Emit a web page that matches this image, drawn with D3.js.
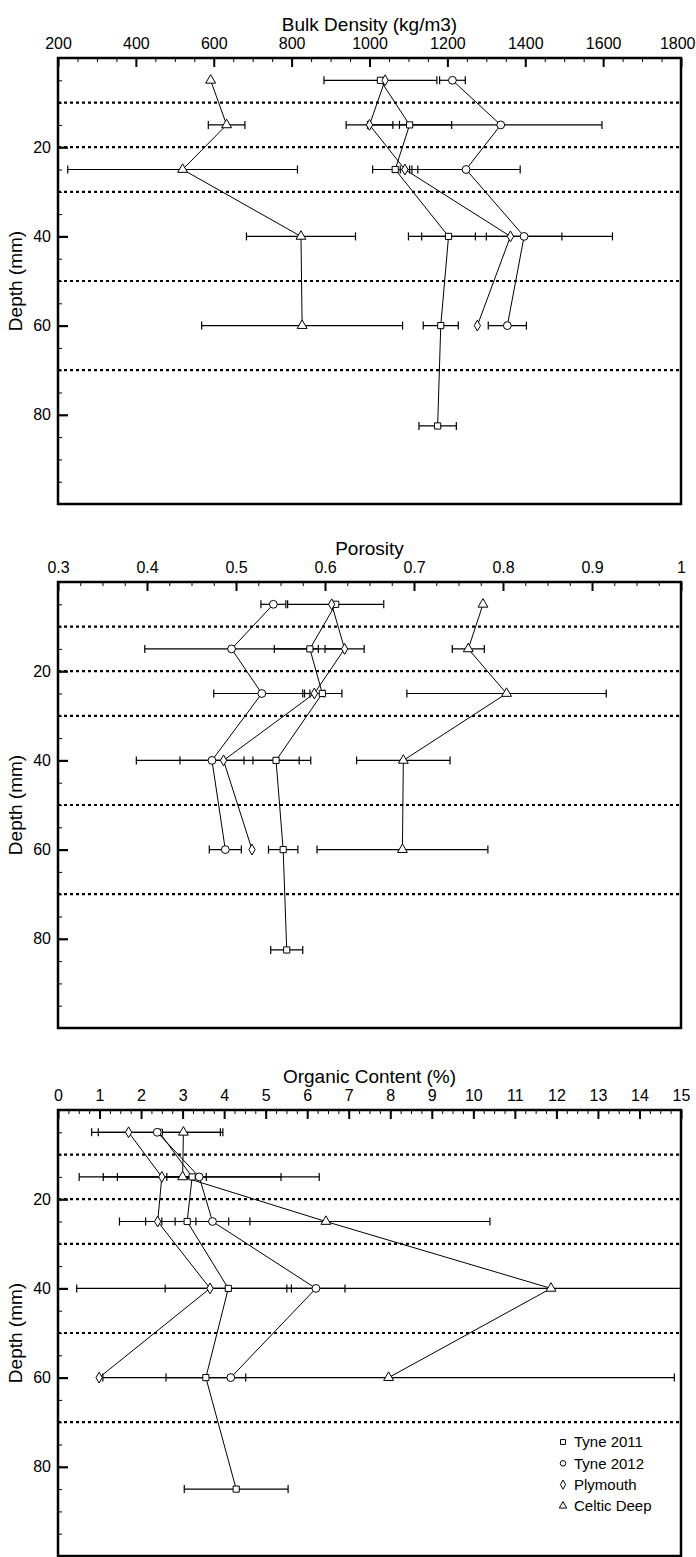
<!DOCTYPE html>
<html>
<head>
<meta charset="utf-8">
<script src="https://cdn.jsdelivr.net/npm/d3@7"></script>
<style>
  body { margin: 0; background: #fff; }
  text { font-family: "Liberation Sans", Arial, sans-serif; fill: #000; }
</style>
</head>
<body>
<svg id="chart" width="696" height="1557"></svg>
<script>
// series order: Tyne 2011, Tyne 2012, Plymouth, Celtic Deep
const seriesNames = ['Tyne 2011', 'Tyne 2012', 'Plymouth', 'Celtic Deep'];
const depths = [5, 15, 25, 40, 60];
// Tyne 2011 has one extra deeper sample in each panel
const deepestTyne2011 = [82.5, 82.5, 85];
const dividerDepths = [10, 20, 30, 50, 70];
const depthTicks = [20, 40, 60, 80];

const bulkMean = [
  [1028, 1103, 1066, 1203, 1183, 1175],
  [1213, 1337, 1248, 1397, 1354],
  [1040, 1000, 1091, 1362, 1277],
  [592, 633, 520, 824, 827]
];
const bulkSd = [
  [145, 108, 58, 69, 45, 48],
  [33, 260, 139, 97, 49],
  [null, 60, 12, 262, null],
  [null, 47, 295, 140, 258]
];

const porosityMean = [
  [0.612, 0.583, 0.597, 0.545, 0.553, 0.557],
  [0.542, 0.495, 0.529, 0.473, 0.488],
  [0.6075, 0.622, 0.588, 0.486, 0.518],
  [0.7775, 0.761, 0.804, 0.688, 0.687]
];
const porositySd = [
  [0.054, 0.040, 0.022, 0.026, 0.0165, 0.018],
  [0.014, 0.0975, 0.054, 0.036, 0.018],
  [null, 0.022, 0.011, 0.098, null],
  [null, 0.018, 0.112, 0.0525, 0.096]
];

const organicMean = [
  [2.44, 3.23, 3.11, 4.10, 3.56, 4.29],
  [2.39, 3.40, 3.72, 6.21, 4.16],
  [1.70, 2.50, 2.40, 3.66, 0.99],
  [3.02, 3.00, 6.45, 11.87, 7.96]
];
const organicSd = [
  [1.47, 2.14, 1.0, 1.52, 0.96, 1.25],
  [1.58, 2.89, 0.9, 0.70, null],
  [null, 1.07, 0.92, null, null],
  [null, 0.38, 3.95, 11.42, 6.88]
];

const bulkTicks = [200, 400, 600, 800, 1000, 1200, 1400, 1600, 1800];
const porosityTicks = [0.3, 0.4, 0.5, 0.6, 0.7, 0.8, 0.9, 1];
const organicTicks = [0, 1, 2, 3, 4, 5, 6, 7, 8, 9, 10, 11, 12, 13, 14, 15];

const panels = [
  { title: 'Bulk Density (kg/m3)', ticks: bulkTicks, minorStep: 50, mean: bulkMean, sd: bulkSd, top: 58 },
  { title: 'Porosity', ticks: porosityTicks, minorStep: 0.025, mean: porosityMean, sd: porositySd, top: 582 },
  { title: 'Organic Content (%)', ticks: organicTicks, minorStep: 0.25, mean: organicMean, sd: organicSd, top: 1110 }
];

const left = 58, width = 623, height = 446;
const symbols = [d3.symbolSquare, d3.symbolCircle, d3.symbolDiamond, d3.symbolTriangle];
const symbolSizes = [38, 48, 34, 42];
const fontFam = '"Liberation Sans", Arial, sans-serif';

const svg = d3.select('#chart');

panels.forEach((p, pi) => {
  const g = svg.append('g').attr('transform', `translate(${left},${p.top})`);
  const lo = p.ticks[0], hi = p.ticks[p.ticks.length - 1];
  const x = d3.scaleLinear().domain([lo, hi]).range([0, width]);
  const y = d3.scaleLinear().domain([0, 100]).range([0, height]);

  g.append('clipPath').attr('id', 'clip' + pi)
    .append('rect').attr('width', width).attr('height', height);

  // dotted horizontal dividers
  g.selectAll('.divider')
    .data(dividerDepths)
    .enter()
    .append('line')
    .attr('x1', 0).attr('x2', width)
    .attr('y1', d => y(d)).attr('y2', d => y(d))
    .attr('stroke', '#000')
    .attr('stroke-width', 2.2)
    .attr('stroke-dasharray', '3,3');

  // top axis, ticks pointing inward
  const minor = d3.range(lo, hi + p.minorStep / 2, p.minorStep);
  g.append('g')
    .call(d3.axisTop(x).tickValues(minor).tickSize(-4).tickFormat(''))
    .call(a => a.select('.domain').remove())
    .selectAll('line').attr('stroke-width', 1);
  g.append('g')
    .call(d3.axisTop(x).tickValues(p.ticks).tickSize(-9).tickPadding(9).tickFormat(d3.format('~g')))
    .call(a => a.select('.domain').remove())
    .call(a => a.selectAll('line').attr('stroke-width', 2))
    .call(a => a.selectAll('text').attr('font-size', 16).style('font-family', fontFam))
    .call(a => a.selectAll('text').each(function (d) {
      // keep the last label inside the page
      const w = this.getComputedTextLength();
      const over = left + x(d) + w / 2 - 695;
      if (over > 0) d3.select(this).attr('dx', -over);
    }));

  // left axis
  g.append('g')
    .call(d3.axisLeft(y).tickValues(d3.range(5, 100, 5)).tickSize(-4).tickFormat(''))
    .call(a => a.select('.domain').remove())
    .selectAll('line').attr('stroke-width', 1);
  g.append('g')
    .call(d3.axisLeft(y).tickValues(depthTicks).tickSize(-10).tickPadding(7))
    .call(a => a.select('.domain').remove())
    .call(a => a.selectAll('line').attr('stroke-width', 2.2))
    .call(a => a.selectAll('text').attr('font-size', 16).style('font-family', fontFam));

  g.append('rect')
    .attr('width', width).attr('height', height)
    .attr('fill', 'none').attr('stroke', '#000').attr('stroke-width', 2.5);

  g.append('text')
    .attr('x', width / 2).attr('y', -27)
    .attr('text-anchor', 'middle')
    .attr('font-size', 19)
    .text(p.title);

  g.append('text')
    .attr('transform', `translate(-36,${height / 2}) rotate(-90)`)
    .attr('text-anchor', 'middle')
    .attr('font-size', 19)
    .text('Depth (mm)');

  const plot = g.append('g').attr('clip-path', `url(#clip${pi})`);
  const line = d3.line().x(d => x(d.v)).y(d => y(d.d));

  const series = p.mean.map((vals, si) => {
    const ds = si === 0 ? depths.concat([deepestTyne2011[pi]]) : depths;
    return vals.map((v, k) => ({ v: v, d: ds[k], e: p.sd[si][k], s: si }));
  });

  series.forEach(pts => {
    plot.append('path')
      .attr('d', line(pts))
      .attr('fill', 'none')
      .attr('stroke', '#000')
      .attr('stroke-width', 1);
  });

  const bars = series.flat().filter(d => d.e != null);
  const eb = plot.selectAll('.err').data(bars).enter().append('g').attr('class', 'err')
    .attr('stroke', '#000').attr('stroke-width', 1.2);
  eb.append('line')
    .attr('x1', d => x(d.v - d.e)).attr('x2', d => x(d.v + d.e))
    .attr('y1', d => y(d.d)).attr('y2', d => y(d.d));
  eb.append('line')
    .attr('x1', d => x(d.v - d.e)).attr('x2', d => x(d.v - d.e))
    .attr('y1', d => y(d.d) - 4).attr('y2', d => y(d.d) + 4);
  eb.append('line')
    .attr('x1', d => x(d.v + d.e)).attr('x2', d => x(d.v + d.e))
    .attr('y1', d => y(d.d) - 4).attr('y2', d => y(d.d) + 4);

  plot.selectAll('.mark')
    .data(series.flat())
    .enter()
    .append('path')
    .attr('class', 'mark')
    .attr('transform', d => `translate(${x(d.v)},${y(d.d)})`)
    .attr('d', d => d3.symbol().type(symbols[d.s]).size(symbolSizes[d.s])())
    .attr('fill', '#fff')
    .attr('stroke', '#000')
    .attr('stroke-width', 1);

  if (pi === 2) {
    const legend = g.selectAll('.legend')
      .data(seriesNames)
      .enter()
      .append('g')
      .attr('class', 'legend')
      .attr('transform', (d, i) => `translate(505,${332 + i * 21.3})`);
    legend.append('path')
      .attr('d', (d, i) => d3.symbol().type(symbols[i]).size(24)())
      .attr('fill', '#fff').attr('stroke', '#000').attr('stroke-width', 1);
    legend.append('text')
      .attr('x', 11).attr('dy', '0.35em')
      .attr('font-size', 15)
      .text(d => d);
  }
});
</script>
</body>
</html>
